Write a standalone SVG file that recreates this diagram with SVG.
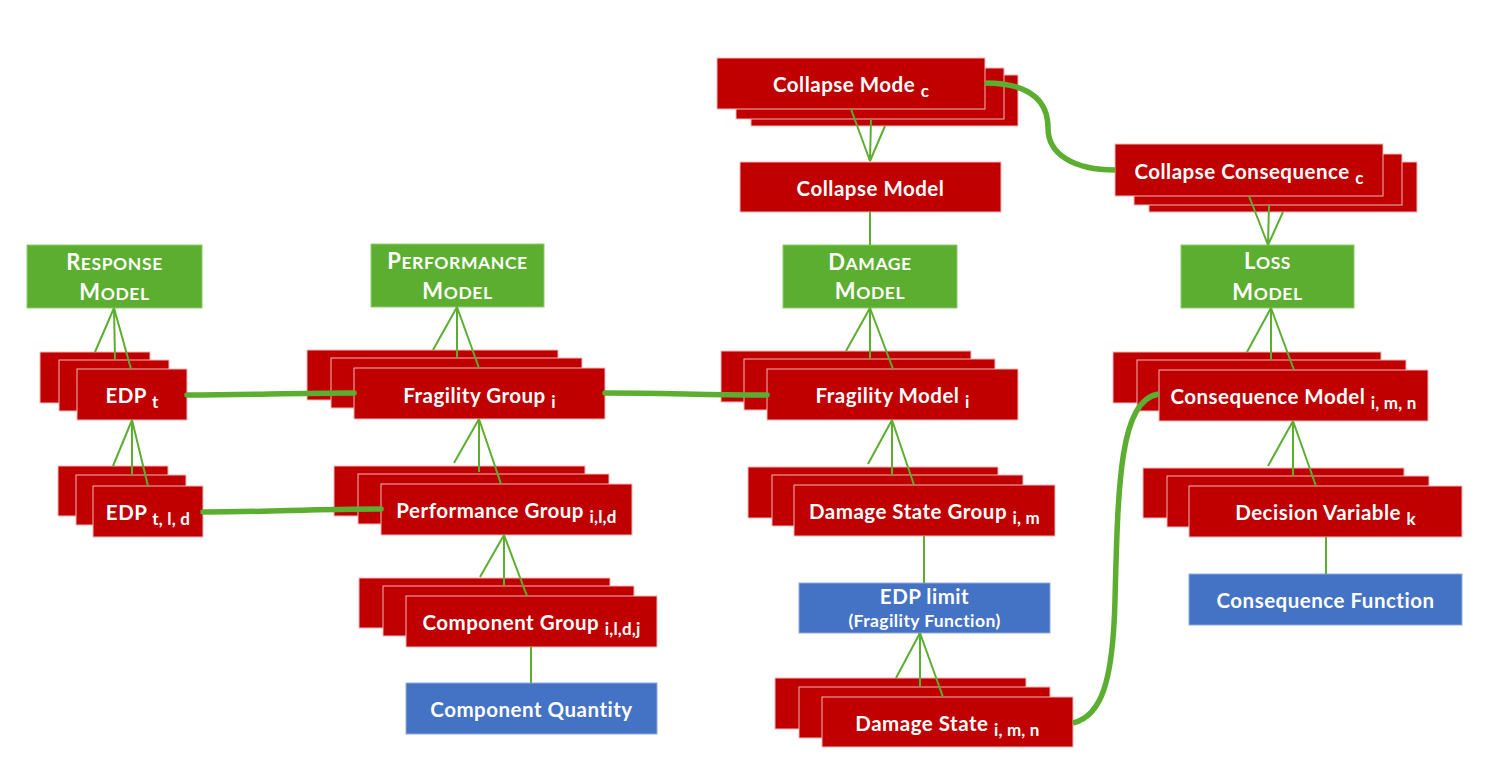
<svg xmlns="http://www.w3.org/2000/svg" width="1494" height="764" viewBox="0 0 1494 764">
<style>
.r{fill:#C00000;stroke:#F2B8B8;stroke-width:1}
.g{fill:#5BAE2F;stroke:#8FCB6C;stroke-width:1}
.b{fill:#4472C4;stroke:#8FAADC;stroke-width:1}
.t{font-family:Lato,"Liberation Sans",sans-serif;font-weight:bold;font-size:20.5px;letter-spacing:0.5px;fill:#fff;text-anchor:middle}
.s{font-size:17px;letter-spacing:0.2px}
.m{font-size:22px}
.sc{font-size:17.5px;letter-spacing:0.6px}
.ff{font-size:17.5px;letter-spacing:0.4px}
.thin{fill:none;stroke:#5BAE2F;stroke-width:2}
.thick{fill:none;stroke:#5BAE2F;stroke-width:5.5;stroke-linecap:round}
</style>
<rect width="1494" height="764" fill="#fff"/>

<g id="response-model">
<rect class="g" x="27" y="245" width="175" height="63"/>
<text class="t" x="114.5" y="270"><tspan class="m">R</tspan><tspan class="sc">ESPONSE</tspan></text>
<text class="t" x="114.5" y="300"><tspan class="m">M</tspan><tspan class="sc">ODEL</tspan></text>
</g>
<g id="performance-model">
<rect class="g" x="371" y="244" width="173" height="63"/>
<text class="t" x="457.5" y="269"><tspan class="m">P</tspan><tspan class="sc">ERFORMANCE</tspan></text>
<text class="t" x="457.5" y="299"><tspan class="m">M</tspan><tspan class="sc">ODEL</tspan></text>
</g>
<g id="damage-model">
<rect class="g" x="783" y="245" width="174" height="63"/>
<text class="t" x="870" y="270"><tspan class="m">D</tspan><tspan class="sc">AMAGE</tspan></text>
<text class="t" x="870" y="299"><tspan class="m">M</tspan><tspan class="sc">ODEL</tspan></text>
</g>
<g id="loss-model">
<rect class="g" x="1181" y="245" width="173" height="63"/>
<text class="t" x="1267.5" y="269"><tspan class="m">L</tspan><tspan class="sc">OSS</tspan></text>
<text class="t" x="1267.5" y="300"><tspan class="m">M</tspan><tspan class="sc">ODEL</tspan></text>
</g>

<g id="edp-t">
<rect class="r" x="40" y="352" width="110" height="51"/>
<rect class="r" x="59" y="360" width="110" height="51"/>
<rect class="r" x="77" y="369" width="110" height="51"/>
<text class="t" x="132" y="403">EDP <tspan class="s" dy="5">t</tspan></text>
</g>
<g id="edp-tld">
<rect class="r" x="58" y="466" width="110" height="50"/>
<rect class="r" x="76" y="475" width="110" height="50"/>
<rect class="r" x="93" y="486" width="110" height="51"/>
<text class="t" x="148" y="520">EDP <tspan class="s" dy="5">t, l, d</tspan></text>
</g>

<g id="fragility-group">
<rect class="r" x="307" y="350" width="251" height="50"/>
<rect class="r" x="331" y="358" width="251" height="50"/>
<rect class="r" x="354" y="368" width="251" height="51"/>
<text class="t" x="479.5" y="403">Fragility Group <tspan class="s" dy="5">i</tspan></text>
</g>
<g id="performance-group">
<rect class="r" x="334" y="466" width="251" height="50"/>
<rect class="r" x="358" y="474" width="251" height="50"/>
<rect class="r" x="381" y="484" width="251" height="51"/>
<text class="t" x="506.5" y="518">Performance Group <tspan class="s" dy="5">i,l,d</tspan></text>
</g>
<g id="component-group">
<rect class="r" x="359" y="578" width="251" height="50"/>
<rect class="r" x="383" y="586" width="251" height="50"/>
<rect class="r" x="406" y="596" width="251" height="51"/>
<text class="t" x="531.5" y="630">Component Group <tspan class="s" dy="5">i,l,d,j</tspan></text>
</g>
<g id="component-quantity">
<rect class="b" x="406" y="683" width="251" height="51"/>
<text class="t" x="531.5" y="717">Component Quantity</text>
</g>

<g id="collapse-mode">
<rect class="r" x="751" y="75" width="267" height="51"/>
<rect class="r" x="736" y="68" width="268" height="51"/>
<rect class="r" x="717" y="58" width="268" height="51"/>
<text class="t" x="851" y="92">Collapse Mode <tspan class="s" dy="5">c</tspan></text>
</g>
<g id="collapse-model">
<rect class="r" x="740" y="162" width="261" height="50"/>
<text class="t" x="870.5" y="196">Collapse Model</text>
</g>
<g id="fragility-model">
<rect class="r" x="721" y="351" width="250" height="51"/>
<rect class="r" x="744" y="359" width="251" height="51"/>
<rect class="r" x="767" y="369" width="251" height="51"/>
<text class="t" x="892.5" y="403">Fragility Model <tspan class="s" dy="5">i</tspan></text>
</g>
<g id="damage-state-group">
<rect class="r" x="748" y="467" width="250" height="51"/>
<rect class="r" x="772" y="475" width="251" height="51"/>
<rect class="r" x="794" y="485" width="261" height="51"/>
<text class="t" x="924.5" y="519">Damage State Group <tspan class="s" dy="5">i, m</tspan></text>
</g>
<g id="edp-limit">
<rect class="b" x="799" y="583" width="251" height="50"/>
<text class="t" x="924.5" y="604">EDP limit</text>
<text class="t ff" x="924.5" y="627">(Fragility Function)</text>
</g>
<g id="damage-state">
<rect class="r" x="775" y="678" width="251" height="51"/>
<rect class="r" x="799" y="687" width="251" height="51"/>
<rect class="r" x="822" y="697" width="251" height="50"/>
<text class="t" x="947.5" y="731">Damage State <tspan class="s" dy="5">i, m, n</tspan></text>
</g>

<g id="collapse-consequence">
<rect class="r" x="1149" y="162" width="268" height="50"/>
<rect class="r" x="1134" y="154" width="268" height="51"/>
<rect class="r" x="1115" y="144" width="268" height="52"/>
<text class="t" x="1249" y="179">Collapse Consequence <tspan class="s" dy="5">c</tspan></text>
</g>
<g id="consequence-model">
<rect class="r" x="1113" y="352" width="268" height="51"/>
<rect class="r" x="1137" y="360" width="269" height="51"/>
<rect class="r" x="1159" y="370" width="269" height="51"/>
<text class="t" x="1293.5" y="404">Consequence Model <tspan class="s" dy="5">i, m, n</tspan></text>
</g>
<g id="decision-variable">
<rect class="r" x="1143" y="468" width="261" height="50"/>
<rect class="r" x="1167" y="476" width="262" height="51"/>
<rect class="r" x="1189" y="486" width="273" height="51"/>
<text class="t" x="1325.5" y="520">Decision Variable <tspan class="s" dy="5">k</tspan></text>
</g>
<g id="consequence-function">
<rect class="b" x="1189" y="574" width="273" height="51"/>
<text class="t" x="1325.5" y="608">Consequence Function</text>
</g>

<g id="connectors">
<path class="thin" d="M114,308 L95,352 M114,308 L115,360 M114,308 L131,369"/>
<path class="thin" d="M132,420 L113,466 M132,420 L132,475 M132,420 L148,486"/>
<path class="thin" d="M457,307 L433,350 M457,307 L457,358 M457,307 L479,368"/>
<path class="thin" d="M479,419 L454,463 M479,419 L479,472 M479,419 L501,484"/>
<path class="thin" d="M504,535 L480,577 M504,535 L504,586 M504,535 L527,596"/>
<path class="thin" d="M531,647 L531,683"/>
<path class="thin" d="M870,161 L851,109 M870,161 L871,119 M870,161 L885,126"/>
<path class="thin" d="M870,212 L870,245"/>
<path class="thin" d="M870,308 L846,351 M870,308 L870,359 M870,308 L893,369"/>
<path class="thin" d="M892,420 L868,464 M892,420 L892,475 M892,420 L914,485"/>
<path class="thin" d="M924,536 L924,583"/>
<path class="thin" d="M920,633 L896,678 M920,633 L920,687 M920,633 L943,697"/>
<path class="thin" d="M1268,245 L1249,196 M1268,245 L1269,205 M1268,245 L1283,212"/>
<path class="thin" d="M1271,308 L1247,352 M1271,308 L1271,360 M1271,308 L1294,370"/>
<path class="thin" d="M1293,421 L1268,466 M1293,421 L1293,476 M1293,421 L1316,486"/>
<path class="thin" d="M1326,537 L1326,574"/>
<path class="thick" d="M187,395 C250,395 290,393 354,393"/>
<path class="thick" d="M605,393 C670,393 700,395 767,395"/>
<path class="thick" d="M203,512 C270,512 310,509 381,509"/>
<path class="thick" d="M985,83 C1035,83 1048,105 1048,128 C1048,155 1075,170 1115,170" style="stroke-linecap:butt"/>
<path class="thick" d="M1073,723 C1102,716 1113,680 1115,600 C1118,480 1120,400 1159,394" style="stroke-linecap:butt"/>
</g>
</svg>
